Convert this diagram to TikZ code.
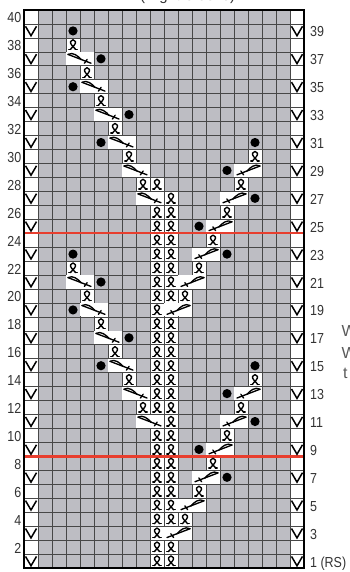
\documentclass[tikz,border=0pt]{standalone}
\usepackage{fontspec}
\setmainfont{Liberation Sans}
\newfontfamily\labfont[FakeStretch=0.86]{Liberation Sans}
\definecolor{cellgray}{RGB}{189,189,195}
\definecolor{redline}{RGB}{232,62,46}
\newcommand\cabpath{%
  \draw[sym] (-12pt,4.4pt) -- (11pt,-4.4pt);
  \draw[sym] (-12pt,4.4pt) .. controls (-7pt,7.2pt) and (-2pt,2.8pt) .. (1.2pt,-0.8pt);
  \draw[sym] (4.4pt,-4.4pt) -- (7.2pt,-0.6pt);}
\tikzset{
  sym/.style={line width=1.35pt, line cap=round, line join=round},
  lab/.style={font=\labfont\fontsize{14.5}{16}\selectfont, text=black!80, inner sep=0pt},
  gridline/.style={draw=black!72, line width=0.6pt},
  redl/.style={draw=redline, line width=2.4pt},
  twst/.pic={
    \draw[sym] (-2.7pt,-4.6pt) -- (1.3pt,-0.2pt) .. controls (3.4pt,2pt) and (2.7pt,5.1pt) .. (0pt,5.1pt)
      .. controls (-2.7pt,5.1pt) and (-3.4pt,2pt) .. (-1.3pt,-0.2pt) -- (2.7pt,-4.6pt);
    \draw[sym] (-4.2pt,-4.6pt) -- (-2.3pt,-4.6pt) (2.3pt,-4.6pt) -- (4.2pt,-4.6pt);},
  bbl/.pic={\fill (0,0) circle (4.6pt);},
  slv/.pic={\draw[line width=1.5pt, line join=miter] (-5.5pt,4.6pt) -- (0pt,-4.8pt) -- (5.5pt,4.6pt);},
  cabL/.pic={\cabpath},
  cabR/.pic={\begin{scope}[xscale=-1]\cabpath\end{scope}},
}
\def\Tlist{10/1,10/2,10/3,10/4,10/5,10/6,10/7,10/8,10/9,10/10,10/12,10/13,10/14,10/15,10/16,10/17,10/18,10/19,10/20,10/21,10/22,10/23,10/24,10/25,10/26,10/28,11/1,11/2,11/4,11/5,11/6,11/7,11/8,11/9,11/10,11/11,11/12,11/13,11/14,11/15,11/16,11/17,11/18,11/20,11/21,11/22,11/23,11/24,11/25,11/26,11/27,9/12,8/14,7/16,6/18,5/20,4/22,9/28,8/30,7/32,6/34,5/36,4/38,12/4,13/6,14/8,15/10,16/12,17/14,12/20,13/22,14/24,15/26,16/28,17/30}
\def\CLlist{9/11,8/13,7/15,6/17,5/19,4/21,9/27,8/29,7/31,6/33,5/35,4/37}
\def\CRlist{11/3,12/5,13/7,14/9,15/11,16/13,11/19,12/21,13/23,14/25,15/27,16/29}
\def\Blist{6/15,8/17,4/19,6/21,4/23,6/31,8/33,4/35,6/37,4/39,15/7,13/9,17/11,15/13,17/15,15/23,13/25,17/27,15/29,17/31}
\begin{document}
\begin{tikzpicture}[x=1pt,y=1pt]
\useasboundingbox (0,0) rectangle (349,572);
\fill[white] (0,0) rectangle (349,572);
\begin{scope}[x=14pt,y=13.95pt,shift={(17pt,-2.975pt)}]
  % background
  \fill[cellgray] (1.5,0.5) rectangle (19.5,40.5);
  \foreach \c/\r in \Tlist {\fill[white] (\c-0.5,\r-0.5) rectangle (\c+0.5,\r+0.5);}
  \foreach \c/\r in \CLlist {\fill[white] (\c-0.5,\r-0.5) rectangle (\c+1.5,\r+0.5);}
  \foreach \c/\r in \CRlist {\fill[white] (\c-0.5,\r-0.5) rectangle (\c+1.5,\r+0.5);}
  % grid
  \foreach \i in {0,...,20} {\draw[gridline] (\i+0.5,0.5) -- (\i+0.5,40.5);}
  \foreach \j in {0,...,40} {\draw[gridline] (0.5,\j+0.5) -- (20.5,\j+0.5);}
  % merged cable boxes
  \foreach \c/\r in \CLlist {\fill[white] ([xshift=0.4pt,yshift=0.4pt]\c-0.5,\r-0.5) rectangle ([xshift=-0.4pt,yshift=-0.4pt]\c+1.5,\r+0.5);}
  \foreach \c/\r in \CRlist {\fill[white] ([xshift=0.4pt,yshift=0.4pt]\c-0.5,\r-0.5) rectangle ([xshift=-0.4pt,yshift=-0.4pt]\c+1.5,\r+0.5);}
  % red lines
  \draw[redl] (0.5,8.5) -- (20.5,8.5);
  \draw[redl] (0.5,24.5) -- (20.5,24.5);
  % border
  \draw[line width=2pt] (0.5,0.5) rectangle (20.5,40.5);
  % symbols
  \foreach \r in {1,3,...,39} {\pic at (1,\r) {slv}; \pic at (20,\r) {slv};}
  \foreach \c/\r in \Tlist {\pic at (\c,\r) {twst};}
  \foreach \c/\r in \CLlist {\pic at (\c+0.5,\r) {cabL};}
  \foreach \c/\r in \CRlist {\pic at (\c+0.5,\r) {cabR};}
  \foreach \c/\r in \Blist {\pic at (\c,\r) {bbl};}
  % row numbers
  \foreach \r in {2,4,...,40} {\node[lab,anchor=east] (L\r) at ([xshift=-2.5pt,yshift=-1pt]0.5,\r) {\r};}
  \foreach \r in {3,5,...,39} {\node[lab,anchor=west] (R\r) at ([xshift=6pt,yshift=-1pt]20.5,\r) {\r};}
  \node[lab,anchor=base west] (R1) at ([xshift=6pt,yshift=-6.2pt]20.5,1) {1 (RS)};
\end{scope}
% cut-off texts at the page edges
\node[font=\fontsize{15}{18}\selectfont, anchor=base west, inner sep=0pt, text=black!80] (title) at (140,571) {(Right Sleeve)};
\node[font=\fontsize{16}{18}\selectfont, anchor=base west, inner sep=0pt, text=black!65] (w1) at (341.5,235) {W};
\node[font=\fontsize{16}{18}\selectfont, anchor=base west, inner sep=0pt, text=black!65] (w2) at (341.5,213) {W};
\node[font=\fontsize{16}{18}\selectfont, anchor=base west, inner sep=0pt, text=black!65] (w3) at (343,193) {t};
\end{tikzpicture}
\end{document}
